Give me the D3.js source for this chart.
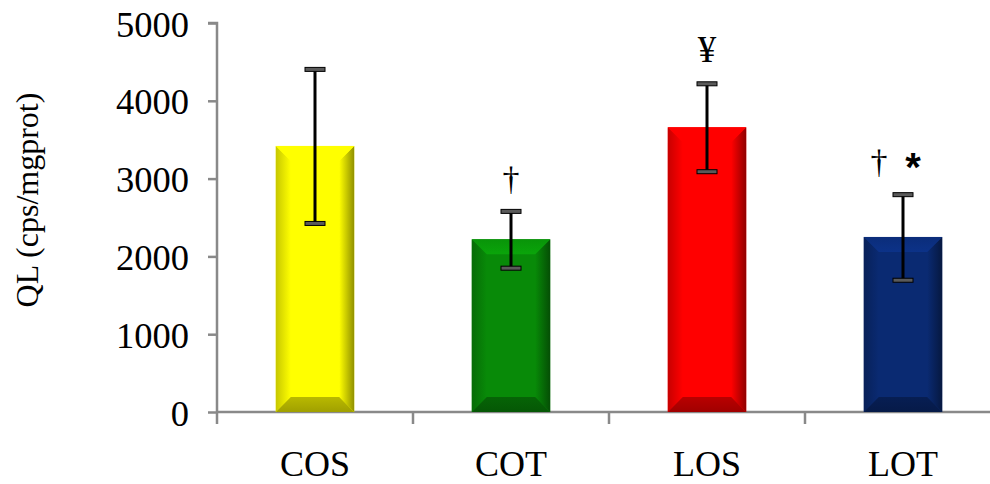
<!DOCTYPE html>
<html>
<head>
<meta charset="utf-8">
<script src="https://cdn.jsdelivr.net/npm/d3@7"></script>
<style>
  body { margin: 0; background: #fff; }
  text { font-family: "Liberation Serif", "Times New Roman", serif; fill: #000; }
</style>
</head>
<body>
<svg id="chart" width="990" height="484"></svg>
<script>
// values
var categories = ["COS", "COT", "LOS", "LOT"];
var means = [3420, 2220, 3660, 2250];
var sds = [990, 365, 565, 550];
var colors = ["#ffff00", "#088a08", "#ff0000", "#0a2a72"];
var marks = [[], ["†"], ["¥"], ["†", "*"]];
var yTicks = [0, 1000, 2000, 3000, 4000, 5000];

function drawChart() {
    var width = 990;
    var pLeft = 217, pRight = 1001, pTop = 23, pBottom = 412;

    var svg = d3.select("#chart");
    var defs = svg.append("defs");

    var x = d3.scaleBand()
        .domain(categories)
        .range([pLeft, pRight])
        .paddingInner(0.6)
        .paddingOuter(0.3);

    var xEdge = d3.scaleLinear().domain([0, categories.length]).range([pLeft, pRight]);

    var y = d3.scaleLinear().domain([0, 5000]).range([pBottom, pTop]);

    // y axis
    var yAxis = svg.append("g")
        .attr("transform", "translate(" + pLeft + ",0)")
        .call(d3.axisLeft(y).tickValues(yTicks).tickSize(9).tickPadding(19).tickFormat(d3.format("d")));
    yAxis.select(".domain").attr("stroke", "#898989").attr("stroke-width", 2.5)
        .attr("d", "M-9," + pTop + "H0V" + (pBottom + 12));
    yAxis.selectAll(".tick line").attr("stroke", "#898989").attr("stroke-width", 2.5);
    yAxis.selectAll(".tick text")
        .style("font-family", "Liberation Serif")
        .style("font-size", "36.5px")
        .attr("dy", "0.36em");

    // x axis
    var xAxis = svg.append("g");
    xAxis.append("line")
        .attr("x1", pLeft).attr("x2", width)
        .attr("y1", pBottom).attr("y2", pBottom)
        .attr("stroke", "#898989").attr("stroke-width", 2.5);
    xAxis.selectAll("line.sep")
        .data(d3.range(1, categories.length + 1))
        .enter().append("line")
        .attr("class", "sep")
        .attr("x1", function(d) { return xEdge(d); })
        .attr("x2", function(d) { return xEdge(d); })
        .attr("y1", pBottom).attr("y2", pBottom + 12)
        .attr("stroke", "#898989").attr("stroke-width", 2.5);
    xAxis.selectAll("text")
        .data(categories)
        .enter().append("text")
        .attr("x", function(d) { return x(d) + x.bandwidth() / 2; })
        .attr("y", 476)
        .attr("text-anchor", "middle")
        .style("font-size", "36px")
        .text(function(d) { return d; });

    // y title
    svg.append("text")
        .attr("transform", "translate(38,200) rotate(-90)")
        .attr("text-anchor", "middle")
        .style("font-size", "32px")
        .text("QL (cps/mgprot)");

    // bevelled bars
    var b = 15;
    function grad(id, c1, c2, x2, y2) {
        var g = defs.append("linearGradient").attr("id", id)
            .attr("x1", 0).attr("y1", 0).attr("x2", x2).attr("y2", y2);
        g.append("stop").attr("offset", "0%").attr("stop-color", c1);
        g.append("stop").attr("offset", "100%").attr("stop-color", c2);
    }

    categories.forEach(function(cat, i) {
        var c = d3.color(colors[i]);
        var x0 = x(cat), x1 = x0 + x.bandwidth();
        var y0 = y(means[i]), y1 = y(0);
        grad("l" + i, c.darker(0.7).toString(), c.toString(), 1, 0);
        grad("r" + i, c.toString(), c.darker(1.6).toString(), 1, 0);
        grad("t" + i, c.brighter(0.2).toString(), c.brighter(0.5).toString(), 0, 1);
        grad("b" + i, c.darker(0.9).toString(), c.darker(1.3).toString(), 0, 1);

        var g = svg.append("g");
        g.append("rect")
            .attr("x", x0).attr("y", y0)
            .attr("width", x1 - x0).attr("height", y1 - y0)
            .attr("fill", c.toString());
        var pts = {
            l: [[x0, y0], [x0 + b, y0 + b], [x0 + b, y1 - b], [x0, y1]],
            r: [[x1, y0], [x1 - b, y0 + b], [x1 - b, y1 - b], [x1, y1]],
            t: [[x0, y0], [x1, y0], [x1 - b, y0 + b], [x0 + b, y0 + b]],
            b: [[x0, y1], [x1, y1], [x1 - b, y1 - b], [x0 + b, y1 - b]]
        };
        ["l", "r", "t", "b"].forEach(function(k) {
            g.append("polygon")
                .attr("points", pts[k].map(function(p) { return p.join(","); }).join(" "))
                .attr("fill", "url(#" + k + i + ")");
        });

        // error bar
        var cx = x0 + x.bandwidth() / 2;
        var hi = y(means[i] + sds[i]), lo = y(means[i] - sds[i]);
        g.append("line")
            .attr("x1", cx).attr("x2", cx).attr("y1", hi).attr("y2", lo)
            .attr("stroke", "#000").attr("stroke-width", 3);
        [hi, lo].forEach(function(yy) {
            g.append("rect")
                .attr("x", cx - 10).attr("y", yy - 1.5)
                .attr("width", 20).attr("height", 4)
                .attr("fill", "#5a5a5a").attr("stroke", "#000").attr("stroke-width", 1);
        });

        // significance marks
        marks[i].forEach(function(m, j) {
            var n = marks[i].length;
            var mx = cx + (n === 1 ? 0 : (j === 0 ? -24 : 10));
            var my = hi - 21;
            var t = g.append("text")
                .attr("x", mx).attr("y", my)
                .attr("text-anchor", "middle")
                .text(m);
            if (m === "*") {
                t.style("font-family", "Liberation Sans").style("font-weight", "bold").style("font-size", "40px").attr("y", my + 8);
            } else {
                t.style("font-size", m === "¥" ? "37px" : "34px");
            }
        });
    });
}

drawChart();
</script>
</body>
</html>
